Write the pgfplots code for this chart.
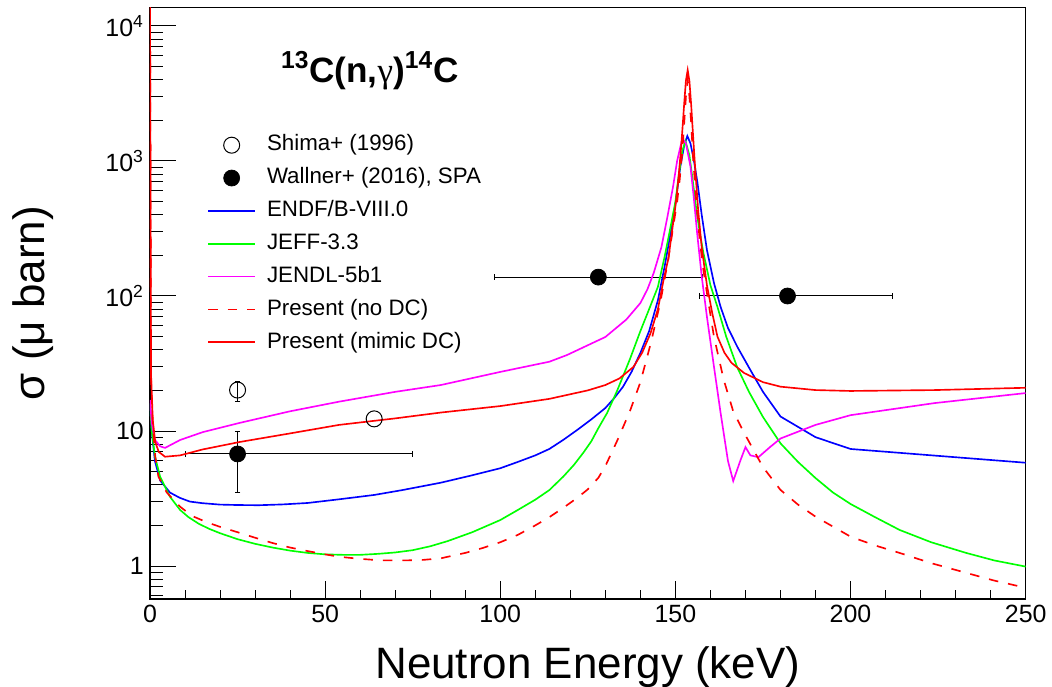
\documentclass[border=0pt]{standalone}
\usepackage{fontspec}
\setmainfont{Liberation Sans}
\newfontfamily\symfont{Liberation Serif}
\usepackage{pgfplots}
\pgfplotsset{compat=1.18}

\definecolor{rblue}{RGB}{0,0,255}
\definecolor{rgreen}{RGB}{0,255,0}
\definecolor{rmag}{RGB}{255,0,255}
\definecolor{rred}{RGB}{255,0,0}

\begin{document}
\begin{tikzpicture}
\begin{axis}[
  scale only axis,
  width=175.14mm, height=118.3mm,
  xmin=0, xmax=250,
  ymode=log, ymin=0.5697, ymax=13710,
  axis line style={line width=0.3mm},
  xtick={0,50,...,250}, minor x tick num=4,
  ytick={1,10,100,1000,10000},
  yticklabels={1,10,10\textsuperscript{2},10\textsuperscript{3},10\textsuperscript{4}},
  minor ytick={0.6,0.7,0.8,0.9,2,3,4,5,6,7,8,9,20,30,40,50,60,70,80,90,200,300,400,500,600,700,800,900,2000,3000,4000,5000,6000,7000,8000,9000},
  xtick pos=left, ytick pos=left,
  tick align=inside,
  major tick length=5.2mm, minor tick length=2.6mm,
  xtick style={/pgfplots/major tick length=3.6mm,/pgfplots/minor tick length=1.8mm},
  tick style={line width=0.2mm, black},
  /pgf/number format/assume math mode=true,
  ticklabel style={font=\fontsize{14.2pt}{17pt}\selectfont},
  xlabel={Neutron Energy (keV)},
  ylabel={σ (μ barn)},
  label style={font=\fontsize{25pt}{30pt}\selectfont},
  xlabel style={at={(axis description cs:0.5,-0.1336)}, anchor=base},
  ylabel style={at={(axis description cs:-0.1336,0.5)}, anchor=center},
  legend image code/.code={\draw[mark repeat=2,mark phase=2,#1] plot coordinates {(0mm,0mm) (4.7mm,0mm) (9.4mm,0mm)};},
  legend style={at={(0.0651,0.786)}, anchor=north west, draw=none, fill=none,
    inner sep=0pt, row sep=2.27mm, column sep=2.2mm,
    font=\fontsize{12.7pt}{15pt}\selectfont,
    nodes={inner sep=0pt, text height=3.3mm, text depth=1.0mm}},
  legend cell align=left,
]
% Shima+ (1996)
\addplot[only marks, mark=o, mark size=1.6mm, mark options={line width=0.2mm, fill=white}, black,
  error bars/.cd, y dir=both, y explicit,
  error bar style={line width=0.2mm}, error mark options={rotate=90, mark size=0.55mm, line width=0.2mm}]
  coordinates {(25,20.1) += (0,3.0) -= (0,3.6) (64,12.3)};
\addlegendentry{Shima+ (1996)}
% Wallner+ (2016), SPA
\addplot[only marks, mark=*, mark size=1.6mm, black,
  error bars/.cd, x dir=both, x explicit, y dir=both, y explicit,
  error bar style={line width=0.2mm}, error mark options={rotate=90, mark size=0.55mm, line width=0.2mm}]
  coordinates {(25,6.76) += (50,3.14) -= (15,3.23) (128,138) += (29.6,0) -= (29.7,0) (182,100) += (30,0) -= (25,0)};
\addlegendentry{Wallner+ (2016), SPA}
% ENDF/B-VIII.0
\addplot[rblue, line width=0.33mm] coordinates {
(0,16) (0.5,10) (1.4,6.0) (2.9,4.3) (5.7,3.5) (8.5,3.2) (11.4,3.0) (15,2.92) (20,2.85) (25,2.83) (31,2.82)
(38,2.86) (45,2.93) (54,3.12) (64,3.36) (72,3.65) (83,4.14) (92,4.7) (100,5.3) (105,5.9) (110,6.6) (114,7.36)
(118,8.6) (122,10.2) (126,12.2) (130,14.8) (132.5,17.5) (135,21.2) (137.5,27.5) (140,37.9) (142.5,55) (145,93)
(147,170) (148.6,291) (150,480) (151.4,908) (152.5,1300) (153.4,1531) (154.3,1350) (155.3,1000) (156.3,688)
(157.5,400) (159,219) (161,125) (162.9,83) (165,58) (167.7,41.9) (171.4,28.3) (175,19.5) (180,12.8) (190,9.0)
(200,7.36) (250,5.82)};
\addlegendentry{ENDF/B-VIII.0}
% JEFF-3.3
\addplot[rgreen, line width=0.33mm] coordinates {
(0,16) (0.5,10) (1.4,6.5) (2.9,4.58) (5.7,3.26) (8.6,2.6) (11,2.3) (14,2.05) (17,1.88) (20,1.75) (25,1.58)
(30,1.46) (35,1.37) (40,1.30) (45,1.25) (50,1.22) (55,1.21) (60,1.21) (65,1.23) (70,1.26) (75,1.31) (80,1.40)
(85,1.53) (92,1.78) (100,2.19) (105,2.6) (110,3.1) (114,3.65) (118,4.6) (121,5.6) (123.7,6.9) (126,8.4)
(128,10.5) (130.5,13.6) (133.4,20) (137,34) (140,55) (142.5,80) (145,117) (147,200) (148.6,324) (150,500)
(151,800) (152,1200) (152.9,1400) (154,1100) (155,700) (156,430) (157,290) (158,208) (160,120) (162,83)
(164.5,50) (167.6,29.8) (171,19.5) (175,12.7) (180,8.1) (185,5.9) (190,4.48) (195,3.5) (200,2.88) (207,2.3)
(214,1.85) (223,1.5) (233,1.25) (241,1.1) (250,0.99)};
\addlegendentry{JEFF-3.3}
% JENDL-5b1
\addplot[rmag, line width=0.33mm] coordinates {
(0,17) (0.5,11.5) (1.4,8.6) (2.9,7.7) (4.3,7.5) (8.6,8.58) (15,9.8) (25.7,11.5) (40,14) (54,16.5) (70,19.5)
(83,21.9) (100,27.4) (114,32.6) (119,36.5) (130,49.7) (136,67) (140,88.7) (142,112) (143.8,148) (146,230)
(147.7,384) (149.3,640) (150.5,1006) (152,1480) (153,1350) (154.3,908) (155.2,550) (156.2,292) (157.5,140)
(159,70) (161,30) (162.9,13.6) (165,6) (166.5,4.26) (168.6,6.1) (170,7.6) (171.4,6.6) (173.7,6.4) (177,7.6)
(180,8.8) (190,11.1) (200,13.1) (224,16.1) (250,19.1)};
\addlegendentry{JENDL-5b1}
% Present (no DC)
\addplot[rred, line width=0.33mm, dash pattern=on 1.9mm off 2.0mm] coordinates {
(0,20000) (0.3,25) (0.8,11) (1.5,6.5) (2.4,4.6) (4.8,3.5) (8.6,2.75) (12,2.35) (16,2.12) (20,1.95) (25,1.78)
(30,1.62) (35,1.48) (40,1.37) (45,1.29) (50,1.22) (54,1.17) (60,1.13) (66,1.10) (73,1.10) (78,1.11) (83,1.14)
(90,1.25) (95,1.36) (100,1.5) (105,1.7) (110,2.0) (114,2.3) (118,2.7) (122,3.2) (125,3.7) (128,4.5) (130,5.5)
(133.4,8.5) (137,14) (140,23) (143,45) (145.7,90) (148,190) (149.4,330) (150.5,500) (151.2,720) (152,1200)
(152.5,1900) (153,3000) (153.5,4000) (154,3000) (154.5,1900) (155,1100) (155.5,720) (156,480) (157,250)
(158,155) (159,105) (161,50) (163.8,23.9) (166.5,14) (169.6,9.7) (175,5.4) (180,3.66) (185,2.85) (190,2.32)
(200,1.65) (207,1.42) (214,1.25) (223,1.05) (233,0.89) (241,0.78) (250,0.69)};
\addlegendentry{Present (no DC)}
% Present (mimic DC)
\addplot[rred, line width=0.33mm] coordinates {
(0,20000) (0.3,26) (0.8,12) (1.5,8.3) (2.5,7.0) (4.3,6.45) (8.6,6.6) (15,7.3) (25.7,8.3) (40,9.6) (54,11.1)
(70,12.4) (83,13.7) (100,15.3) (114,17.3) (125,20) (130,21.9) (134,24.5) (138,29.8) (140.5,38) (142.9,53)
(145,80) (146.6,131) (148,190) (149,297) (150,461) (150.5,600) (151,814) (151.5,1150) (152,1716) (152.5,2650)
(153,3950) (153.5,4720) (154,3900) (154.5,2600) (155,1600) (155.5,1000) (156,650) (156.5,430) (157.5,230)
(159,120) (160.5,75) (162,50) (164,38) (166,32) (169.6,26.9) (175,23) (180,21.3) (190,20.1) (200,19.8)
(224,20.1) (250,20.9)};
\addlegendentry{Present (mimic DC)}
\node[anchor=base, font=\fontsize{20pt}{24pt}\selectfont\bfseries] at (axis description cs:0.251,0.874)
  {\textsuperscript{13}C(n,{\symfont\mdseries γ})\textsuperscript{14}C};
\end{axis}
\pgfresetboundingbox
\path[use as bounding box] ([shift={(-30mm,-17.6mm)}]current axis.south west) rectangle ([shift={(5.26mm,1.5mm)}]current axis.north east);
\end{tikzpicture}
\end{document}
